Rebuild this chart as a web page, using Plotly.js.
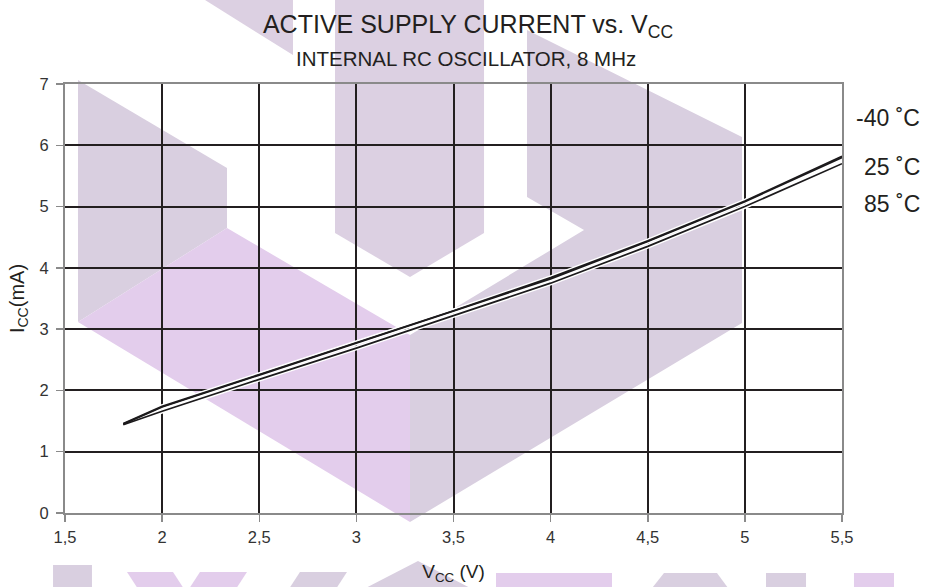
<!DOCTYPE html>
<html>
<head>
<meta charset="utf-8">
<script src="https://cdn.plot.ly/plotly-3.0.1.min.js"></script>
<style>
  html, body { margin: 0; padding: 0; background: #ffffff; }
  #chart { width: 929px; height: 587px; }
</style>
</head>
<body>
<div id="chart"></div>
<script>
// ---- Data ----
const vcc = [1.8, 2.0, 2.5, 3.0, 3.5, 4.0, 4.5, 5.0, 5.5];
const icc_m40 = [1.46, 1.74, 2.26, 2.78, 3.30, 3.84, 4.44, 5.09, 5.82];
const icc_25  = [1.45, 1.73, 2.25, 2.77, 3.29, 3.82, 4.43, 5.08, 5.80];
const icc_85  = [1.44, 1.66, 2.18, 2.69, 3.22, 3.75, 4.35, 5.00, 5.70];
const seriesNames = ["-40 ˚C", "25 ˚C", "85 ˚C"];

const xTickVals = [1.5, 2, 2.5, 3, 3.5, 4, 4.5, 5, 5.5];
const xTickText = ["1,5", "2", "2,5", "3", "3,5", "4", "4,5", "5", "5,5"];
const yTickVals = [0, 1, 2, 3, 4, 5, 6, 7];
const yTickText = ["0", "1", "2", "3", "4", "5", "6", "7"];

// ---- Layout geometry ----
const W = 929, H = 587;
const M = {l: 65, r: 87, t: 84, b: 74};
const PW = W - M.l - M.r, PH = H - M.t - M.b;
const px = v => (v - M.l) / PW;           // pixel x -> paper x
const py = v => (H - M.b - v) / PH;       // pixel y -> paper y

// background watermark polygons (pixel coords of the page)
const GRAY = "#d9cfe0", PINK = "#e3cdec", GRAY2 = "#dcd0e2";
const watermark = [
  {c: GRAY2, p: [[197,-5],[293,55],[293,-5]]},
  {c: GRAY2, p: [[335,-5],[484,-5],[484,233],[410,277],[335,233]]},
  {c: GRAY,  p: [[78,80],[227,168],[227,228],[78,322]]},
  {c: PINK,  p: [[78,322],[227,228],[410,335],[410,522]]},
  {c: GRAY,  p: [[527,30],[742,137],[742,323],[410,522],[410,335],[584,230],[527,197]]},
  {c: GRAY,  p: [[53,565],[92,565],[92,592],[53,592]]},
  {c: PINK,  p: [[127,572],[173,572],[186,592],[140,592]]},
  {c: PINK,  p: [[200,572],[247,572],[234,592],[187,592]]},
  {c: GRAY,  p: [[300,572],[347,572],[334,592],[287,592]]},
  {c: GRAY,  p: [[418,561],[478,592],[358,592]]},
  {c: PINK,  p: [[496,573],[612,573],[612,592],[496,592]]},
  {c: GRAY,  p: [[664,573],[717,573],[731,592],[649,592]]},
  {c: GRAY,  p: [[766,573],[806,573],[806,592],[766,592]]},
  {c: PINK,  p: [[854,573],[894,573],[894,592],[854,592]]}
];
const shapes = watermark.map(s => ({
  type: "path", xref: "paper", yref: "paper", layer: "below",
  path: "M " + s.p.map(q => px(q[0]).toFixed(4) + "," + py(q[1]).toFixed(4)).join(" L ") + " Z",
  fillcolor: s.c, line: {width: 0}
}));

const traces = [];
// white casing under each curve (as in the original print)
[icc_85, icc_25, icc_m40].forEach(ys => traces.push({
  x: vcc, y: ys, type: "scatter", mode: "lines",
  line: {color: "#ffffff", width: 4.5}, hoverinfo: "skip", showlegend: false
}));
[icc_85, icc_25, icc_m40].forEach((ys, i) => traces.push({
  x: vcc, y: ys, type: "scatter", mode: "lines",
  name: seriesNames[2 - i],
  line: {color: "#1c1a1c", width: 1.7}, showlegend: false
}));

const FONT = "Liberation Sans, Arial, Helvetica, sans-serif";
const labelY = [118, 167, 204];
const annotations = [
  {text: "INTERNAL RC OSCILLATOR, 8 MHz", xref: "paper", yref: "paper",
   x: px(466), y: py(58), xanchor: "center", yanchor: "middle", showarrow: false,
   font: {family: FONT, size: 20.5, color: "#231f20"}}
].concat(seriesNames.map((t, i) => ({
  text: t, xref: "paper", yref: "paper", x: px(922), y: py(labelY[i]),
  xanchor: "right", yanchor: "middle", showarrow: false,
  font: {family: FONT, size: 23, color: "#231f20"}
})));

const axisCommon = {
  showgrid: true, gridcolor: "#231f20", gridwidth: 2,
  showline: true, linecolor: "#8a8a8a", linewidth: 2, mirror: true,
  zeroline: false, ticks: "outside", ticklen: 7, tickwidth: 1.5, tickcolor: "#8a8a8a",
  tickfont: {family: FONT, size: 16.5, color: "#333333"}, fixedrange: true
};

const layout = {
  width: W, height: H, margin: M,
  paper_bgcolor: "#ffffff", plot_bgcolor: "rgba(0,0,0,0)",
  title: {text: "ACTIVE SUPPLY CURRENT vs. V<sub>CC</sub>", font: {family: FONT, size: 25, color: "#231f20"},
          x: 468 / W, xanchor: "center", y: 1 - 24 / H, yanchor: "middle", yref: "container"},
  xaxis: Object.assign({}, axisCommon, {
    range: [1.5, 5.5], tickmode: "array", tickvals: xTickVals, ticktext: xTickText,
    ticklabelstandoff: 1,
    title: {text: "V<sub>CC</sub> (V)", font: {family: FONT, size: 19, color: "#231f20"}, standoff: 20}
  }),
  yaxis: Object.assign({}, axisCommon, {
    range: [0, 7], tickmode: "array", tickvals: yTickVals, ticktext: yTickText,
    ticklabelstandoff: 4,
    title: {text: "I<sub>CC</sub>(mA)", font: {family: FONT, size: 20, color: "#231f20"}, standoff: 10}
  }),
  shapes: shapes,
  annotations: annotations,
  showlegend: false
};

Plotly.newPlot("chart", traces, layout, {displayModeBar: false, staticPlot: true});
</script>
</body>
</html>
